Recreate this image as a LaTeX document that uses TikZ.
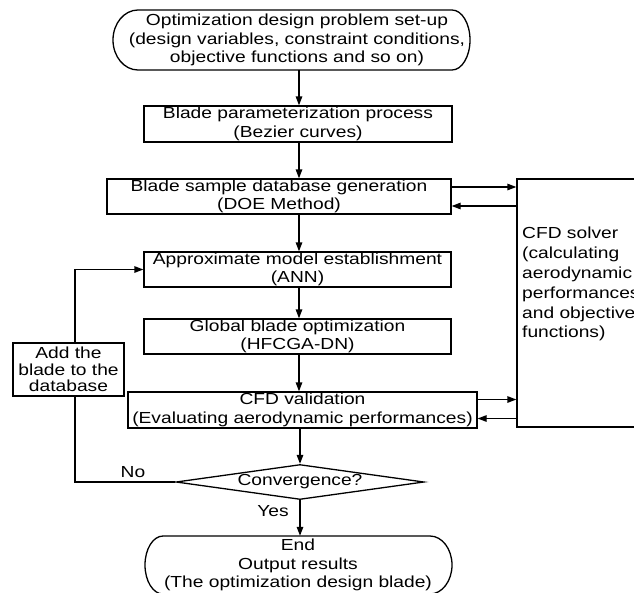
\documentclass[tikz,border=0pt]{standalone}
\usepackage{fontspec}
\setmainfont{Liberation Sans}[FakeStretch=1.2]
\usetikzlibrary{arrows.meta,shapes.geometric}
\begin{document}
\begin{tikzpicture}[x=1pt,y=1pt,
  ln/.style={line width=1.3pt},
  txt/.style={inner sep=0pt, align=center, font=\fontsize{16}{18.5}\selectfont},
  box/.style={txt, draw, ln},
  arr/.style={ln, -{Triangle[length=9pt,width=6.5pt]}}]
\useasboundingbox (0,0) rectangle (634,-592);
\coordinate (axis) at (299,0);
\coordinate (fb) at (75,0);

% start terminator
\node[txt, minimum height=60pt] (top) at (297,-40)
  {Optimization design problem set-up\\(design variables, constraint conditions,\\objective functions and so on)};
\draw[ln] (138,-10) -- (452,-10)
  arc[start angle=90, end angle=-90, x radius=18pt, y radius=30pt]
  -- (138,-70)
  arc[start angle=270, end angle=90, x radius=25pt, y radius=30pt] -- cycle;

\node[box, minimum width=308pt, minimum height=36pt] (param) at (298,-124)
  {Blade parameterization process\\(Bezier curves)};
\node[box, minimum width=344pt, minimum height=35pt] (sample) at (279,-196.5)
  {Blade sample database generation\\(DOE Method)};
\node[box, minimum width=307pt, minimum height=35pt] (approx) at (297.5,-269.5)
  {Approximate model establishment\\(ANN)};
\node[box, minimum width=307pt, minimum height=35pt] (glob) at (297.5,-336.5)
  {Global blade optimization\\(HFCGA-DN)};
\node[box, minimum width=349pt, minimum height=36pt] (valid) at (302.5,-410)
  {CFD validation\\(Evaluating aerodynamic performances)};
\node[box, minimum width=111pt, minimum height=53pt, font=\fontsize{16}{16.3}\selectfont] (add) at (68.5,-369.5)
  {Add the\\blade to the\\database};
\node[draw, ln, minimum width=143pt, minimum height=248pt, inner sep=0pt] (solver) at (588.5,-303) {};
\node[inner sep=0pt, anchor=north west, align=left, font=\fontsize{16}{19.8}\selectfont] (soltext) at (522,-227)
  {CFD solver\\(calculating\\aerodynamic\\performances\\and objective\\functions)};
\node[txt, draw, ln, diamond, aspect=7, minimum width=248pt, minimum height=35pt] (conv) at (300,-482)
  {Convergence?};

% end terminator
\node[txt, minimum height=58pt] (fin) at (298,-565)
  {End\\Output results\\(The optimization design blade)};
\draw[ln] (163,-536) -- (430,-536)
  arc[start angle=90, end angle=-90, x radius=22pt, y radius=29pt]
  -- (163,-594)
  arc[start angle=270, end angle=90, x radius=18pt, y radius=29pt] -- cycle;

% main flow
\draw[arr] (top.south -| axis) -- (param.north -| axis);
\draw[arr] (param.south -| axis) -- (sample.north -| axis);
\draw[arr] (sample.south -| axis) -- (approx.north -| axis);
\draw[arr] (approx.south -| axis) -- (glob.north -| axis);
\draw[arr] (glob.south -| axis) -- (valid.north -| axis);
\draw[arr] (valid.south -| conv.north) -- (conv.north);
\draw[arr] (conv.south) -- (fin.north -| conv.south);

% solver exchanges
\draw[arr] ([yshift=9.5pt]sample.east) -- ([yshift=9.5pt]sample.east -| solver.west);
\draw[arr] ([yshift=-9.5pt]sample.east -| solver.west) -- ([yshift=-9.5pt]sample.east);
\draw[arr] ([yshift=10.5pt]valid.east) -- ([yshift=10.5pt]valid.east -| solver.west);
\draw[arr] ([yshift=-8.5pt]valid.east -| solver.west) -- ([yshift=-8.5pt]valid.east);

% feedback loop
\draw[ln] (conv.west) -- (conv.west -| fb) -- (add.south -| fb);
\draw[arr] (add.north -| fb) |- (approx.west);
\node[txt] (no) at (133,-472) {No};
\node[txt] (yes) at (273,-511) {Yes};
\end{tikzpicture}
\end{document}
